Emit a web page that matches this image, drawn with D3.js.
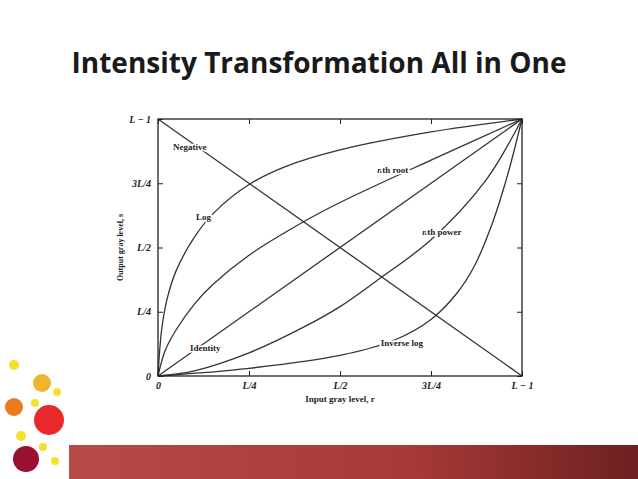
<!DOCTYPE html>
<html><head><meta charset="utf-8">
<script src="https://cdn.jsdelivr.net/npm/d3@7"></script>
<style>body{margin:0;background:#fff}svg{display:block}</style>
</head><body>
<svg id="c" width="638" height="479"></svg>
<script>
// fractions of L-1
const ticks = [0, 0.25, 0.5, 0.75, 1];
const xTickLabels = ['0', 'L/4', 'L/2', '3L/4', 'L − 1'];
const yTickLabels = ['0', 'L/4', 'L/2', '3L/4', 'L − 1'];

const negative = [[0, 1], [1, 0]];
const identity = [[0, 0], [1, 1]];
const logCurve = [[0, 0], [0.01, 0.18], [0.025, 0.3], [0.05, 0.41], [0.1, 0.54], [0.15, 0.63], [0.25, 0.745], [0.35, 0.815], [0.5, 0.88], [0.75, 0.95], [1, 1]];
const rootCurve = [[0, 0], [0.02, 0.1], [0.05, 0.18], [0.1, 0.28], [0.15, 0.355], [0.25, 0.47], [0.4, 0.6], [0.5, 0.675], [0.75, 0.84], [1, 1]];
const powerCurve = [[0, 0], [0.1, 0.02], [0.25, 0.09], [0.4, 0.19], [0.5, 0.27], [0.6, 0.37], [0.75, 0.53], [0.9, 0.76], [1, 1]];
const invLogCurve = [[0, 0], [0.25, 0.03], [0.5, 0.08], [0.65, 0.14], [0.75, 0.22], [0.82, 0.32], [0.87, 0.43], [0.92, 0.6], [0.96, 0.78], [1, 1]];

const curves = [negative, identity, logCurve, rootCurve, powerCurve, invLogCurve];
const labels = [
  {t: 'Negative', x: 0.087, y: 0.89},
  {t: 'Log', x: 0.125, y: 0.62},
  {t: 'nth root', x: 0.645, y: 0.80, it: true},
  {t: 'nth power', x: 0.78, y: 0.56, it: true},
  {t: 'Identity', x: 0.13, y: 0.11},
  {t: 'Inverse log', x: 0.67, y: 0.13}
];

const svg = d3.select('#c');

// decoration dots
const dots = [[14, 365, 5, '#f2e22a'], [42, 383, 9, '#f0b52a'], [57, 392, 4, '#f2e22a'], [14, 407, 9, '#ee7a1e'],
  [35, 403, 4, '#f2e22a'], [49, 420, 15, '#e8282a'], [21, 436, 5, '#f2e22a'], [43, 447, 4, '#f2e22a'],
  [26, 459, 13, '#9a1030'], [55, 461, 4, '#f2e22a']];
svg.selectAll('circle.dot').data(dots).enter().append('circle')
  .attr('cx', d => d[0]).attr('cy', d => d[1]).attr('r', d => d[2]).attr('fill', d => d[3]);

const grad = svg.append('defs').append('linearGradient').attr('id', 'bar').attr('x2', 1);
grad.append('stop').attr('offset', 0).attr('stop-color', '#b84a48');
grad.append('stop').attr('offset', 0.6).attr('stop-color', '#a63a38');
grad.append('stop').attr('offset', 1).attr('stop-color', '#6e2020');
svg.append('rect').attr('x', 69).attr('y', 445).attr('width', 569).attr('height', 34).attr('fill', 'url(#bar)');

svg.append('text').attr('x', 319).attr('y', 73).attr('text-anchor', 'middle')
  .style('font', 'bold 28px "Open Sans", sans-serif').attr('fill', '#1a1a1a')
  .text('Intensity Transformation All in One');

const x = d3.scaleLinear().domain([0, 1]).range([158, 522]);
const y = d3.scaleLinear().domain([0, 1]).range([376, 119]);
const ink = '#222';
const serif = '"Liberation Serif", "DejaVu Serif", serif';

const line = d3.line().x(d => x(d[0])).y(d => y(d[1])).curve(d3.curveCatmullRom.alpha(0.5));
svg.selectAll('path.curve').data(curves).enter().append('path')
  .attr('d', line).attr('fill', 'none').attr('stroke', '#333').attr('stroke-width', 1.3);

svg.append('rect').attr('x', x(0)).attr('y', y(1)).attr('width', x(1) - x(0)).attr('height', y(0) - y(1))
  .attr('fill', 'none').attr('stroke', ink).attr('stroke-width', 1.3);

const fmt = (arr) => (d, i) => arr[i];
svg.append('g').attr('transform', `translate(0,${y(0)})`)
  .call(d3.axisBottom(x).tickValues(ticks).tickFormat(fmt(xTickLabels)).tickSize(-5).tickPadding(6));
svg.append('g').attr('transform', `translate(0,${y(1)})`)
  .call(d3.axisTop(x).tickValues(ticks).tickFormat('').tickSize(-5));
svg.append('g').attr('transform', `translate(${x(0)},0)`)
  .call(d3.axisLeft(y).tickValues(ticks).tickFormat(fmt(yTickLabels)).tickSize(-5).tickPadding(7));
svg.append('g').attr('transform', `translate(${x(1)},0)`)
  .call(d3.axisRight(y).tickValues(ticks).tickFormat('').tickSize(-5));
svg.selectAll('.domain').remove();
svg.selectAll('.tick line').attr('stroke', ink);
svg.selectAll('.tick text').style('font', `bold italic 10px ${serif}`).attr('fill', ink);

svg.append('text').attr('x', 340).attr('y', 402).attr('text-anchor', 'middle')
  .style('font', `bold 9px ${serif}`).attr('fill', ink).text('Input gray level, r');
svg.append('text').attr('transform', `translate(123,${y(0.5)}) rotate(-90)`).attr('text-anchor', 'middle')
  .style('font', `bold 8px ${serif}`).attr('fill', ink).text('Output gray level, s');

const lab = svg.selectAll('text.lab').data(labels).enter().append('text')
  .attr('x', d => x(d.x)).attr('y', d => y(d.y) + 3).attr('text-anchor', 'middle')
  .style('font', `bold 9px ${serif}`).attr('fill', ink)
  .attr('stroke', '#fff').attr('stroke-width', 3).attr('paint-order', 'stroke');
lab.each(function(d) {
  const t = d3.select(this);
  if (d.it) { t.append('tspan').style('font-style', 'italic').text('n'); t.append('tspan').text(d.t.slice(1)); }
  else t.text(d.t);
});
</script>
</body></html>
